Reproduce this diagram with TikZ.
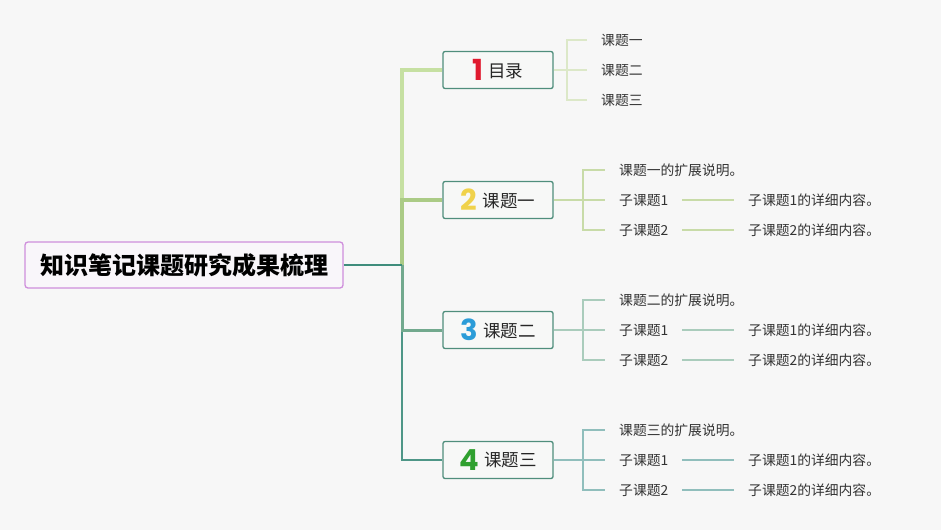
\documentclass[tikz,border=0pt]{standalone}
\usepackage{fontspec}
\setmainfont{Noto Sans CJK SC}
\newfontfamily\numfont{Poppins}
\usetikzlibrary{positioning}

\definecolor{bgcol}{HTML}{F7F7F7}
\definecolor{rootline}{HTML}{CF8FDC}
\definecolor{rootfill}{HTML}{F9F6FA}
\definecolor{topicline}{HTML}{4F8E7C}
\definecolor{topicfill}{HTML}{F7F8F7}
\definecolor{trunk1}{HTML}{C6E0A2}
\definecolor{trunk2}{HTML}{ABCB86}
\definecolor{trunk3}{HTML}{72A98E}
\definecolor{trunk4}{HTML}{4E9687}
\definecolor{trunk0}{HTML}{3F8D7C}
\definecolor{twig1}{HTML}{DCE8C8}
\definecolor{twig2}{HTML}{C8DBA8}
\definecolor{twig3}{HTML}{AACCBC}
\definecolor{twig4}{HTML}{90BEBC}
\definecolor{numred}{HTML}{E01A2E}
\definecolor{numyellow}{HTML}{F0D24B}
\definecolor{numblue}{HTML}{2B9CD8}
\definecolor{numgreen}{HTML}{2FA02F}
\definecolor{leaftext}{HTML}{333333}

\newcommand{\topicnum}[2]{\raisebox{-3.5pt}{\color{#1}\numfont\bfseries\fontsize{29}{29}\selectfont #2}\hspace{5pt}}

\tikzstyle{rootbox} = [rectangle, rounded corners=3pt, draw=rootline, fill=rootfill, line width=1.3pt, minimum width=318pt, minimum height=46pt, text=black, font=\fontsize{24}{24}\selectfont\bfseries]
\tikzstyle{topic} = [rectangle, rounded corners=2pt, draw=topicline, fill=topicfill, line width=1.3pt, minimum width=110pt, minimum height=37pt, inner sep=0pt, text=black!85, font=\fontsize{17.5}{17.5}\selectfont]
\tikzstyle{leaf} = [inner xsep=14pt, inner ysep=2pt, anchor=west, text=leaftext, font=\fontsize{13.8}{13.8}\selectfont]
\tikzstyle{twigline} = [line width=1.2pt]

\begin{document}
\begin{tikzpicture}[x=1pt, y=-1pt]
        \fill[bgcol] (0,0) rectangle (941,530);
        \useasboundingbox (0,0) rectangle (941,530);

        \node (root) [rootbox] at (184,265) {知识笔记课题研究成果梳理};
        \node (topic1) [topic] at (498,70) {\topicnum{numred}{1}目录};
        \node (topic2) [topic] at (498,200) {\topicnum{numyellow}{2}课题一};
        \node (topic3) [topic] at (498,330) {\topicnum{numblue}{3}课题二};
        \node (topic4) [topic] at (498,460) {\topicnum{numgreen}{4}课题三};

        % first topic
        \node (t1a) [leaf] at (587,40) {课题一};
        \node (t1b) [leaf] at (587,70) {课题二};
        \node (t1c) [leaf] at (587,100) {课题三};

        % second topic
        \node (t2a) [leaf] at (605,170) {课题一的扩展说明。};
        \node (t2b) [leaf] at (605,200) {子课题1};
        \node (t2c) [leaf] at (605,230) {子课题2};
        \node (d2b) [leaf] at (734,200) {子课题1的详细内容。};
        \node (d2c) [leaf] at (734,230) {子课题2的详细内容。};

        % third topic
        \node (t3a) [leaf] at (605,300) {课题二的扩展说明。};
        \node (t3b) [leaf] at (605,330) {子课题1};
        \node (t3c) [leaf] at (605,360) {子课题2};
        \node (d3b) [leaf] at (734,330) {子课题1的详细内容。};
        \node (d3c) [leaf] at (734,360) {子课题2的详细内容。};

        % fourth topic
        \node (t4a) [leaf] at (605,430) {课题三的扩展说明。};
        \node (t4b) [leaf] at (605,460) {子课题1};
        \node (t4c) [leaf] at (605,490) {子课题2};
        \node (d4b) [leaf] at (734,460) {子课题1的详细内容。};
        \node (d4c) [leaf] at (734,490) {子课题2的详细内容。};

        % Trunk
        \coordinate (trunk) at (402,265);
        \draw [trunk1, line width=4.5pt] (trunk) |- (topic1.west);
        \draw [trunk2, line width=3.5pt] (trunk) |- (topic2.west);
        \draw [trunk4, line width=2pt] (trunk) |- (topic4.west);
        \draw [trunk3, line width=3pt] (trunk) |- (topic3.west);
        \draw [trunk0, line width=2.5pt] (root.east) -- (trunk);

        % Twigs
        \coordinate (fork1) at (567,70);
        \coordinate (fork2) at (583,200);
        \coordinate (fork3) at (583,330);
        \coordinate (fork4) at (583,460);
        \draw [twigline, twig1] (topic1.east) -- (fork1);
        \draw [twigline, twig1] (fork1) |- (t1a.west);
        \draw [twigline, twig1] (fork1) -- (t1b.west);
        \draw [twigline, twig1] (fork1) |- (t1c.west);

        \draw [twigline, twig2] (topic2.east) -- (fork2);
        \draw [twigline, twig2] (fork2) |- (t2a.west);
        \draw [twigline, twig2] (fork2) -- (t2b.west);
        \draw [twigline, twig2] (fork2) |- (t2c.west);
        \draw [twigline, twig2] (t2b.east) -- (d2b.west);
        \draw [twigline, twig2] (t2c.east) -- (d2c.west);

        \draw [twigline, twig3] (topic3.east) -- (fork3);
        \draw [twigline, twig3] (fork3) |- (t3a.west);
        \draw [twigline, twig3] (fork3) -- (t3b.west);
        \draw [twigline, twig3] (fork3) |- (t3c.west);
        \draw [twigline, twig3] (t3b.east) -- (d3b.west);
        \draw [twigline, twig3] (t3c.east) -- (d3c.west);

        \draw [twigline, twig4] (topic4.east) -- (fork4);
        \draw [twigline, twig4] (fork4) |- (t4a.west);
        \draw [twigline, twig4] (fork4) -- (t4b.west);
        \draw [twigline, twig4] (fork4) |- (t4c.west);
        \draw [twigline, twig4] (t4b.east) -- (d4b.west);
        \draw [twigline, twig4] (t4c.east) -- (d4c.west);

\end{tikzpicture}
\end{document}
